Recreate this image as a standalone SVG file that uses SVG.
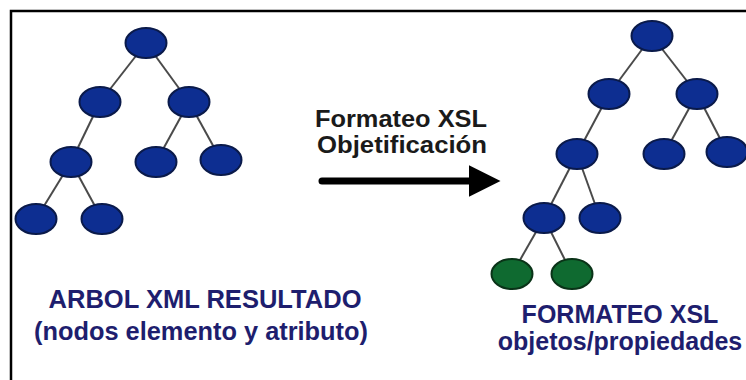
<svg xmlns="http://www.w3.org/2000/svg" width="746" height="380" viewBox="0 0 746 380">
<style>
.edge{stroke:#4a4a4a;stroke-width:2;fill:none}
.blue{fill:#0d2e91;stroke:#0a1a4a;stroke-width:2}
.green{fill:#0f6a30;stroke:#0a3318;stroke-width:2}
.lbl{font-family:"Liberation Sans",Arial,sans-serif;font-weight:bold;font-size:25px;fill:#1e1e6e;text-anchor:middle}
.mid{font-family:"Liberation Sans",Arial,sans-serif;font-weight:bold;font-size:23px;fill:#1a1a1a}
.frame{stroke:#000;stroke-width:2.5;fill:none}
</style>
<defs>
<marker id="ah" viewBox="0 0 10 10" refX="0" refY="5" markerWidth="4.5" markerHeight="4.5" orient="auto" markerUnits="strokeWidth">
<path d="M0,0 L10,5 L0,10 z" fill="#000"/>
</marker>
</defs>
<rect width="746" height="380" fill="#fff"/>
<path class="frame" d="M11,380 V11 H746"/>
<g id="connectors">
<line class="edge" x1="146" y1="43" x2="100" y2="102"/>
<line class="edge" x1="146" y1="43" x2="189" y2="102"/>
<line class="edge" x1="100" y1="102" x2="71" y2="162"/>
<line class="edge" x1="189" y1="102" x2="156" y2="162"/>
<line class="edge" x1="189" y1="102" x2="221" y2="160"/>
<line class="edge" x1="71" y1="162" x2="36" y2="219"/>
<line class="edge" x1="71" y1="162" x2="102" y2="219"/>
<line class="edge" x1="652" y1="36" x2="609" y2="94"/>
<line class="edge" x1="652" y1="36" x2="697" y2="94"/>
<line class="edge" x1="609" y1="94" x2="577" y2="154"/>
<line class="edge" x1="697" y1="94" x2="664" y2="154"/>
<line class="edge" x1="697" y1="94" x2="727" y2="152"/>
<line class="edge" x1="577" y1="154" x2="544" y2="218"/>
<line class="edge" x1="577" y1="154" x2="600" y2="218"/>
<line class="edge" x1="544" y1="218" x2="512" y2="274"/>
<line class="edge" x1="544" y1="218" x2="572" y2="274"/>
<line x1="322" y1="181" x2="469" y2="181" stroke="#000" stroke-width="7" stroke-linecap="round" marker-end="url(#ah)"/>
</g>
<g id="l-root"><ellipse class="blue" cx="146" cy="43" rx="20.5" ry="15"/></g>
<g id="l-a"><ellipse class="blue" cx="100" cy="102" rx="20.5" ry="15"/></g>
<g id="l-b"><ellipse class="blue" cx="189" cy="102" rx="20.5" ry="15"/></g>
<g id="l-c"><ellipse class="blue" cx="71" cy="162" rx="20.5" ry="15"/></g>
<g id="l-d"><ellipse class="blue" cx="156" cy="162" rx="20.5" ry="15"/></g>
<g id="l-e"><ellipse class="blue" cx="221" cy="160" rx="20.5" ry="15"/></g>
<g id="l-f"><ellipse class="blue" cx="36" cy="219" rx="20.5" ry="15"/></g>
<g id="l-g"><ellipse class="blue" cx="102" cy="219" rx="20.5" ry="15"/></g>
<g id="r-root"><ellipse class="blue" cx="652" cy="36" rx="20.5" ry="15"/></g>
<g id="r-a"><ellipse class="blue" cx="609" cy="94" rx="20.5" ry="15"/></g>
<g id="r-b"><ellipse class="blue" cx="697" cy="94" rx="20.5" ry="15"/></g>
<g id="r-c"><ellipse class="blue" cx="577" cy="154" rx="20.5" ry="15"/></g>
<g id="r-d"><ellipse class="blue" cx="664" cy="154" rx="20.5" ry="15"/></g>
<g id="r-e"><ellipse class="blue" cx="727" cy="152" rx="20.5" ry="15"/></g>
<g id="r-f"><ellipse class="blue" cx="544" cy="218" rx="20.5" ry="15"/></g>
<g id="r-g"><ellipse class="blue" cx="600" cy="218" rx="20.5" ry="15"/></g>
<g id="r-h"><ellipse class="green" cx="512" cy="274" rx="20.5" ry="15"/></g>
<g id="r-i"><ellipse class="green" cx="572" cy="274" rx="20.5" ry="15"/></g>
<g id="labels">
<text class="lbl" x="205" y="308" textLength="313" lengthAdjust="spacingAndGlyphs">ARBOL XML RESULTADO</text>
<text class="lbl" x="201" y="340" textLength="334" lengthAdjust="spacingAndGlyphs">(nodos elemento y atributo)</text>
<text class="lbl" x="620" y="323">FORMATEO XSL</text>
<text class="lbl" x="620" y="350">objetos/propiedades</text>
<text class="mid" x="315" y="127" textLength="172" lengthAdjust="spacingAndGlyphs">Formateo XSL</text>
<text class="mid" x="317" y="153" textLength="170" lengthAdjust="spacingAndGlyphs">Objetificación</text>
</g>
</svg>
